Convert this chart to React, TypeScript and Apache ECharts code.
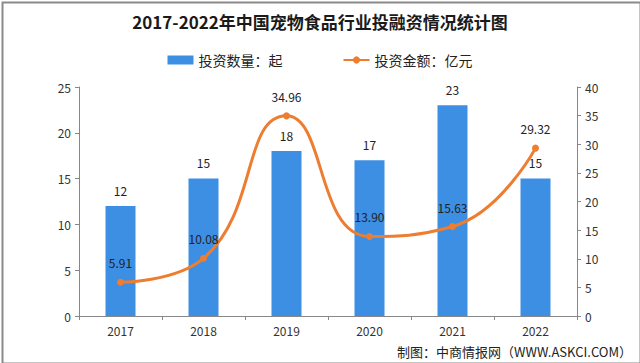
import React, { useEffect, useRef } from "react";
import * as echarts from "echarts";

const years = ["2017", "2018", "2019", "2020", "2021", "2022"];
const dealCounts = [12, 15, 18, 17, 23, 15];
const amounts = [5.91, 10.08, 34.96, 13.9, 15.63, 29.32];
const leftTicks = { min: 0, max: 25, interval: 5 };
const rightTicks = { min: 0, max: 40, interval: 5 };

export default function App() {
  const ref = useRef<HTMLDivElement>(null);
  useEffect(() => {
    document.body.style.margin = "0";
    const chart = echarts.init(ref.current!, null, { renderer: "svg" });
    const font = "'Noto Sans CJK SC', 'Noto Sans', sans-serif";
    chart.setOption({
      animation: false,
      backgroundColor: "#ffffff",
      textStyle: { fontFamily: font },
      title: {
        text: "2017-2022年中国宠物食品行业投融资情况统计图",
        left: "center",
        top: 8,
        textStyle: { fontSize: 17, fontWeight: "bold", color: "#1a1a1a", fontFamily: font },
      },
      legend: {
        top: 48,
        left: "center",
        itemGap: 60,
        itemWidth: 26,
        itemHeight: 9,
        textStyle: { fontSize: 14, color: "#222" },
        data: [
          { name: "投资数量：起", icon: "rect" },
          { name: "投资金额：亿元" },
        ],
      },
      grid: { left: 79, right: 63, top: 87, bottom: 47 },
      xAxis: {
        type: "category",
        data: years,
        axisLine: { lineStyle: { color: "#888", width: 1 } },
        axisTick: { show: true, lineStyle: { color: "#888" }, length: 4 },
        axisLabel: { color: "#333", fontSize: 12, margin: 8 },
      },
      yAxis: [
        {
          type: "value",
          ...leftTicks,
          axisLine: { show: true, lineStyle: { color: "#888" } },
          axisTick: { show: true, length: 4, lineStyle: { color: "#888" } },
          axisLabel: { color: "#333", fontSize: 12, margin: 8 },
          splitLine: { show: false },
        },
        {
          type: "value",
          ...rightTicks,
          position: "right",
          axisLine: { show: true, lineStyle: { color: "#888" } },
          axisTick: { show: true, length: 4, lineStyle: { color: "#888" } },
          axisLabel: { color: "#333", fontSize: 12, margin: 8 },
          splitLine: { show: false },
        },
      ],
      series: [
        {
          name: "投资数量：起",
          type: "bar",
          data: dealCounts,
          barWidth: 30,
          yAxisIndex: 0,
          itemStyle: { color: "#3d8fe3" },
          label: {
            show: true,
            position: "top",
            distance: 10,
            color: "#222",
            fontSize: 12,
          },
        },
        {
          name: "投资金额：亿元",
          type: "line",
          data: amounts,
          yAxisIndex: 1,
          smooth: 0.5,
          symbol: "circle",
          symbolSize: 7,
          lineStyle: { color: "#ed7d31", width: 3 },
          itemStyle: { color: "#ed7d31" },
          label: {
            show: true,
            position: "top",
            distance: 10,
            color: "#222",
            fontSize: 12,
            formatter: (p: any) => Number(p.value).toFixed(2),
          },
          z: 3,
        },
      ],
      graphic: [
        {
          type: "text",
          right: 8,
          bottom: 5,
          style: {
            text: "制图：中商情报网（WWW.ASKCI.COM）",
            fontSize: 13,
            fill: "#222",
            fontFamily: font,
          },
        },
        {
          type: "rect",
          left: 0,
          top: 0,
          silent: true,
          shape: { x: 0.5, y: 0.5, width: 638, height: 361 },
          style: { fill: "none", stroke: "#8a8a8a", lineWidth: 2 },
        },
      ],
    });
    return () => chart.dispose();
  }, []);
  return (
    <div
      ref={ref}
      style={{
        width: 640,
        height: 363,
        position: "absolute",
        left: 0,
        top: 0,
      }}
    />
  );
}
